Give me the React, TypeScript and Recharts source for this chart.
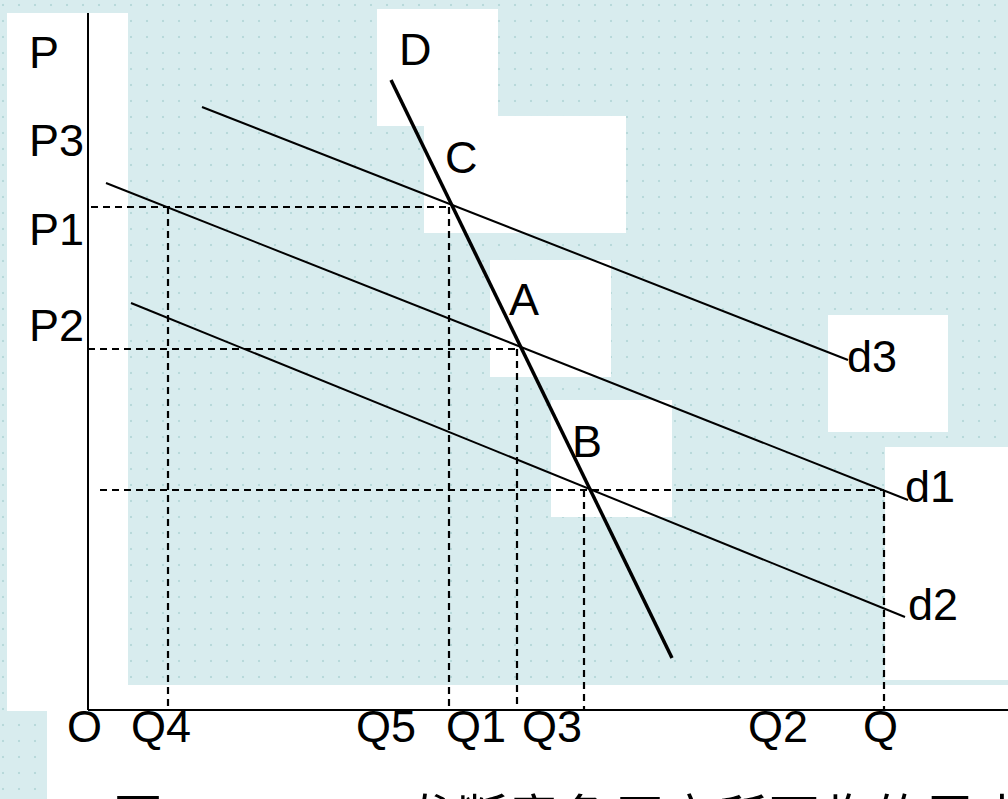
import React from "react";
import {
  ComposedChart,
  XAxis,
  YAxis,
  ReferenceArea,
  ReferenceLine,
  Scatter,
} from "recharts";

document.body.style.margin = "0";

const CURVE_D = [{ q: 30.3, p: 63.0 }, { q: 58.4, p: 5.2 }];
const CURVE_D3 = [{ q: 11.4, p: 60.3 }, { q: 76.0, p: 35.0 }];
const CURVE_D1 = [{ q: 1.8, p: 52.7 }, { q: 82.0, p: 21.0 }];
const CURVE_D2 = [{ q: 4.3, p: 40.7 }, { q: 81.7, p: 9.3 }];

const POINT_C = { q: 36.1, p: 50.3 };
const POINT_A = { q: 42.9, p: 36.1 };
const POINT_B = { q: 49.6, p: 22.0 };
const Q4 = 8.0;
const Q_MAX = 79.6;

const AXIS_TOP = 69.7;
const AXIS_RIGHT = 92.0;

const X_DOMAIN = [-8.8, 92.0];
const Y_DOMAIN = [-8.9, 71.0];

// dashed guide lines
const GUIDES = [
  [{ q: 0.3, p: POINT_C.p }, POINT_C],
  [{ q: Q4, p: POINT_C.p }, { q: Q4, p: 0 }],
  [POINT_C, { q: POINT_C.q, p: 0 }],
  [{ q: 0, p: POINT_A.p }, POINT_A],
  [POINT_A, { q: POINT_A.q, p: 0 }],
  [{ q: 1.2, p: POINT_B.p }, { q: Q_MAX, p: POINT_B.p }],
  [POINT_B, { q: POINT_B.q, p: 0 }],
  [{ q: Q_MAX, p: POINT_B.p }, { q: Q_MAX, p: 0 }],
];

// white text boxes behind the labels [q1, q2, p1, p2]
const BOXES = [
  [-8.1, 4.0, -0.1, 69.7],
  [-4.1, 92.0, -8.9, 2.5],
  [79.7, 92.0, 3.0, 26.3],
  [74.0, 86.0, 27.8, 39.5],
  [28.9, 41.0, 58.4, 70.1],
  [33.6, 53.8, 47.7, 59.4],
  [40.2, 52.3, 33.3, 45.0],
  [46.3, 58.4, 19.3, 31.0],
];

const LABELS = [
  { x: -5.9, y: 64.2, text: "P" },
  { x: -5.9, y: 55.4, text: "P3" },
  { x: -5.9, y: 46.5, text: "P1" },
  { x: -5.9, y: 36.9, text: "P2" },
  { x: 31.1, y: 64.5, text: "D" },
  { x: 35.7, y: 53.7, text: "C" },
  { x: 42.1, y: 39.5, text: "A" },
  { x: 48.4, y: 25.3, text: "B" },
  { x: 75.9, y: 33.8, text: "d3" },
  { x: 81.7, y: 20.8, text: "d1" },
  { x: 82.0, y: 9.0, text: "d2" },
  { x: -2.1, y: -3.2, text: "O" },
  { x: 4.3, y: -3.2, text: "Q4" },
  { x: 26.8, y: -3.2, text: "Q5" },
  { x: 35.8, y: -3.2, text: "Q1" },
  { x: 43.4, y: -3.2, text: "Q3" },
  { x: 66.0, y: -3.2, text: "Q2" },
  { x: 77.5, y: -3.2, text: "Q" },
];

const seg = (pts: { q: number; p: number }[]) =>
  pts.map((d) => ({ x: d.q, y: d.p }));

const LabelShape = (props: any) => (
  <text
    x={props.cx}
    y={props.cy}
    fontFamily="'Liberation Sans', Arial, sans-serif"
    fontSize={45}
    fill="#000"
  >
    {props.payload.text}
  </text>
);

export default function App() {
  return (
    <div
      style={{
        position: "relative",
        width: 1008,
        height: 799,
        overflow: "hidden",
        backgroundColor: "#d8ecee",
        backgroundImage:
          "radial-gradient(circle, #b8d9da 1px, transparent 1.6px)",
        backgroundSize: "16px 16px",
        backgroundPosition: "-5px -3px",
      }}
    >
      <ComposedChart
        width={1008}
        height={799}
        margin={{ top: 0, right: 0, bottom: 0, left: 0 }}
      >
        <XAxis type="number" dataKey="x" domain={X_DOMAIN} hide height={0} />
        <YAxis type="number" dataKey="y" domain={Y_DOMAIN} hide width={0} />
        {BOXES.map((b, i) => (
          <ReferenceArea
            key={`box-${i}`}
            x1={b[0]}
            x2={b[1]}
            y1={b[2]}
            y2={b[3]}
            fill="#ffffff"
            fillOpacity={1}
            stroke="none"
            ifOverflow="visible"
          />
        ))}
        <ReferenceLine
          segment={[{ x: 0, y: 0 }, { x: 0, y: AXIS_TOP }]}
          stroke="#000"
          strokeWidth={2}
          ifOverflow="visible"
        />
        <ReferenceLine
          segment={[{ x: 0, y: 0 }, { x: AXIS_RIGHT, y: 0 }]}
          stroke="#000"
          strokeWidth={2}
          ifOverflow="visible"
        />
        {GUIDES.map((g, i) => (
          <ReferenceLine
            key={`guide-${i}`}
            segment={seg(g)}
            stroke="#000"
            strokeWidth={2.2}
            strokeDasharray="7 5"
            ifOverflow="visible"
          />
        ))}
        {[CURVE_D3, CURVE_D1, CURVE_D2].map((c, i) => (
          <ReferenceLine
            key={`d-${i}`}
            segment={seg(c)}
            stroke="#000"
            strokeWidth={2}
            ifOverflow="visible"
          />
        ))}
        <ReferenceLine
          segment={seg(CURVE_D)}
          stroke="#000"
          strokeWidth={3.5}
          ifOverflow="visible"
        />
        <Scatter
          data={LABELS}
          shape={LabelShape}
          isAnimationActive={false}
        />
      </ComposedChart>
      <svg
        width={1008}
        height={799}
        style={{ position: "absolute", left: 0, top: 0, pointerEvents: "none" }}
      >
        <text
          y={836}
          fontFamily="'Noto Sans CJK SC', sans-serif"
          fontSize={50}
          fill="#000"
        >
          <tspan x={113}>图</tspan>
          <tspan x={405} letterSpacing={2}>垄断竞争厂商所面临的需求曲线</tspan>
        </text>
      </svg>
    </div>
  );
}
